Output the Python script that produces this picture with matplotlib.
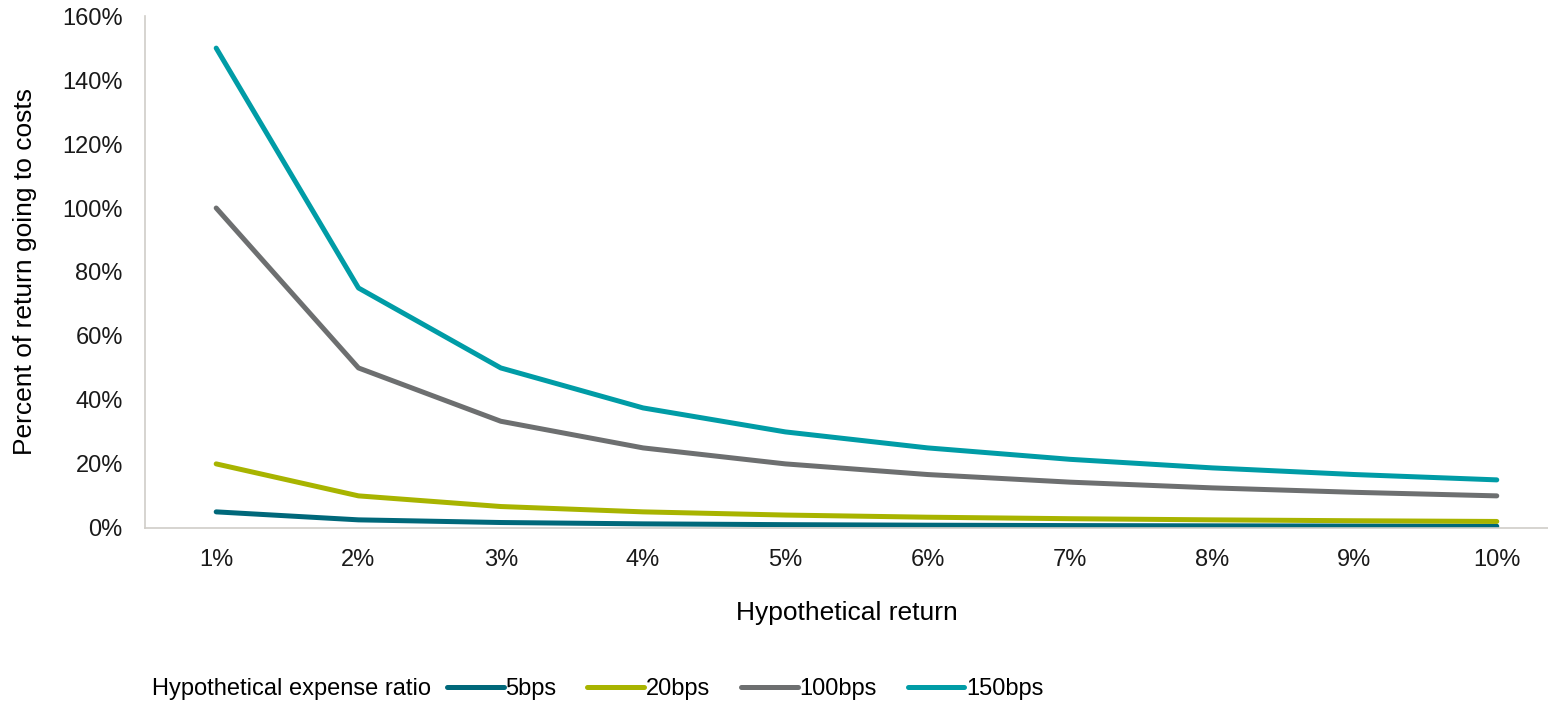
import matplotlib.pyplot as plt
from matplotlib.ticker import FuncFormatter

plt.rcParams['font.family'] = ['Liberation Sans', 'DejaVu Sans']

# hypothetical returns along the x axis
returns = ['1%', '2%', '3%', '4%', '5%', '6%', '7%', '8%', '9%', '10%']

# share of the return eaten by fees, in percent
bps5 = [5.0, 2.5, 1.67, 1.25, 1.0, 0.83, 0.71, 0.63, 0.56, 0.5]
bps20 = [20.0, 10.0, 6.67, 5.0, 4.0, 3.33, 2.86, 2.5, 2.22, 2.0]
bps100 = [100.0, 50.0, 33.33, 25.0, 20.0, 16.67, 14.29, 12.5, 11.11, 10.0]
bps150 = [150.0, 75.0, 50.0, 37.5, 30.0, 25.0, 21.43, 18.75, 16.67, 15.0]

series = [('5bps', bps5, '#00687a'),
          ('20bps', bps20, '#a8b400'),
          ('100bps', bps100, '#6d6f70'),
          ('150bps', bps150, '#009ca6')]

fig = plt.figure(figsize=(15.48, 7.01), dpi=100)
ax = fig.add_axes([0.0937, 0.247, 0.9063, 0.73])

x = range(len(returns))
for name, vals, col in series:
    ax.plot(x, vals, color=col, lw=3.6, solid_capstyle='round',
            solid_joinstyle='round', label=name)

ax.set_xlim(-0.5, 9.36)
ax.set_ylim(0, 160)
ax.set_yticks(range(0, 161, 20))
ax.yaxis.set_major_formatter(FuncFormatter(lambda v, p: '%d%%' % v))
ax.set_xticks(list(x))
ax.set_xticklabels(returns)
ax.tick_params(axis='both', length=0, labelsize=17, colors='#1a1a1a')
ax.tick_params(axis='x', pad=15)
ax.tick_params(axis='y', pad=16)

for s in ['top', 'right']:
    ax.spines[s].set_visible(False)
for s in ['left', 'bottom']:
    ax.spines[s].set_color('#d0cdc8')
    ax.spines[s].set_linewidth(1.2)

ax.set_ylabel('Percent of return going to costs', fontsize=19, labelpad=18)
ax.set_xlabel('Hypothetical return', fontsize=19, labelpad=22)

fig.text(152 / 1548, 12 / 701, 'Hypothetical expense ratio', fontsize=17,
         va='center', ha='left')
fig.legend(loc='center left', bbox_to_anchor=(447 / 1548, 12 / 701), ncol=4,
           frameon=False, fontsize=17, handlelength=2.4, handletextpad=0.08,
           columnspacing=1.3, borderpad=0, borderaxespad=0)

fig.savefig('out.png', dpi=100)
